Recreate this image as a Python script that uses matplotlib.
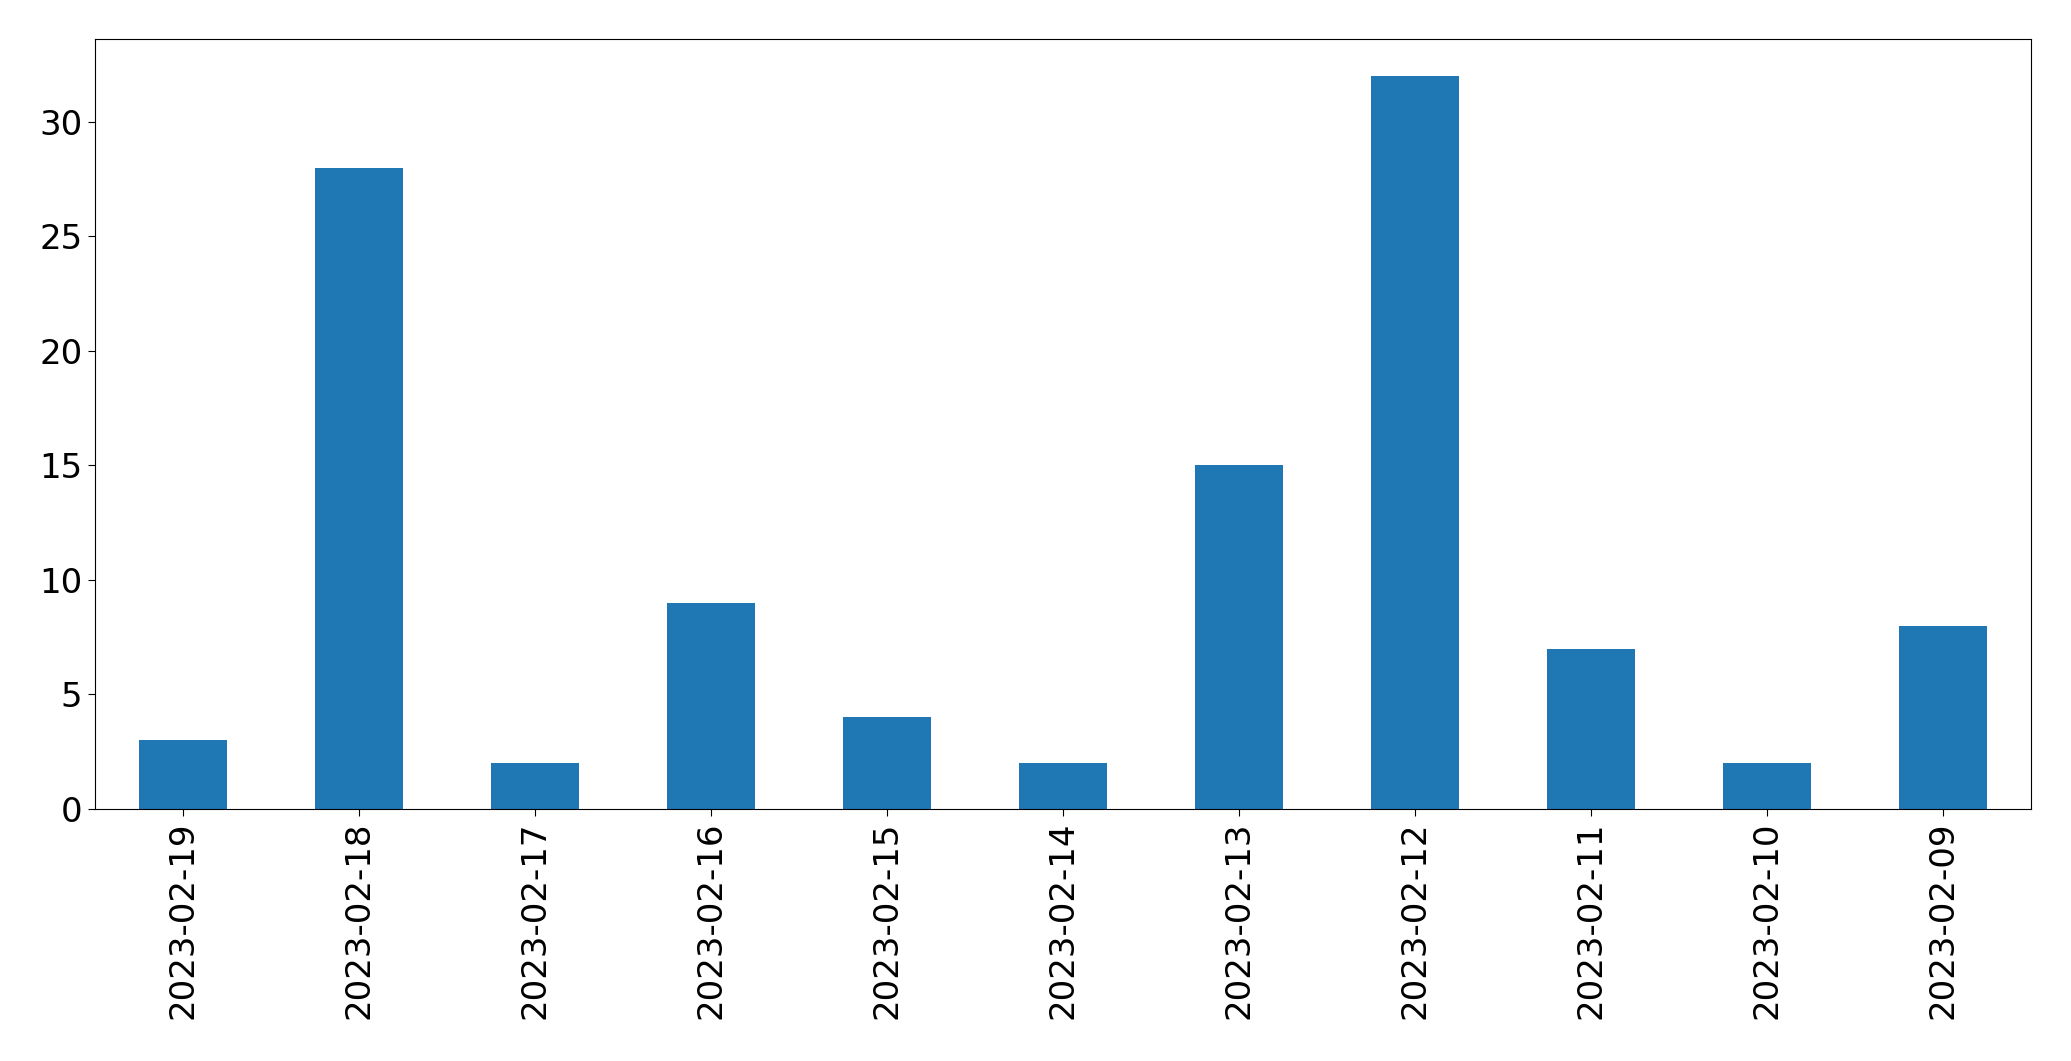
import matplotlib
matplotlib.use("Agg")
import matplotlib.pyplot as plt

# Daily counts (pandas-style bar plot, newest first)
dates = [
    "2023-02-19", "2023-02-18", "2023-02-17", "2023-02-16", "2023-02-15",
    "2023-02-14", "2023-02-13", "2023-02-12", "2023-02-11", "2023-02-10",
    "2023-02-09",
]
counts = [3, 28, 2, 9, 4, 2, 15, 32, 7, 2, 8]

fig = plt.figure(figsize=(20.71, 10.61), dpi=100)
ax = fig.add_axes([0.0457, 0.2375, 0.9352, 0.7255])

x = list(range(len(dates)))
ax.bar(x, counts, width=0.5, color="#1f77b4")
ax.set_xlim(-0.5, len(dates) - 0.5)
ax.set_xticks(x)
ax.set_xticklabels(dates, rotation=90)
ax.tick_params(axis="both", labelsize=24.5, length=5.3)

fig.savefig("out.png", dpi=100)
plt.close(fig)
